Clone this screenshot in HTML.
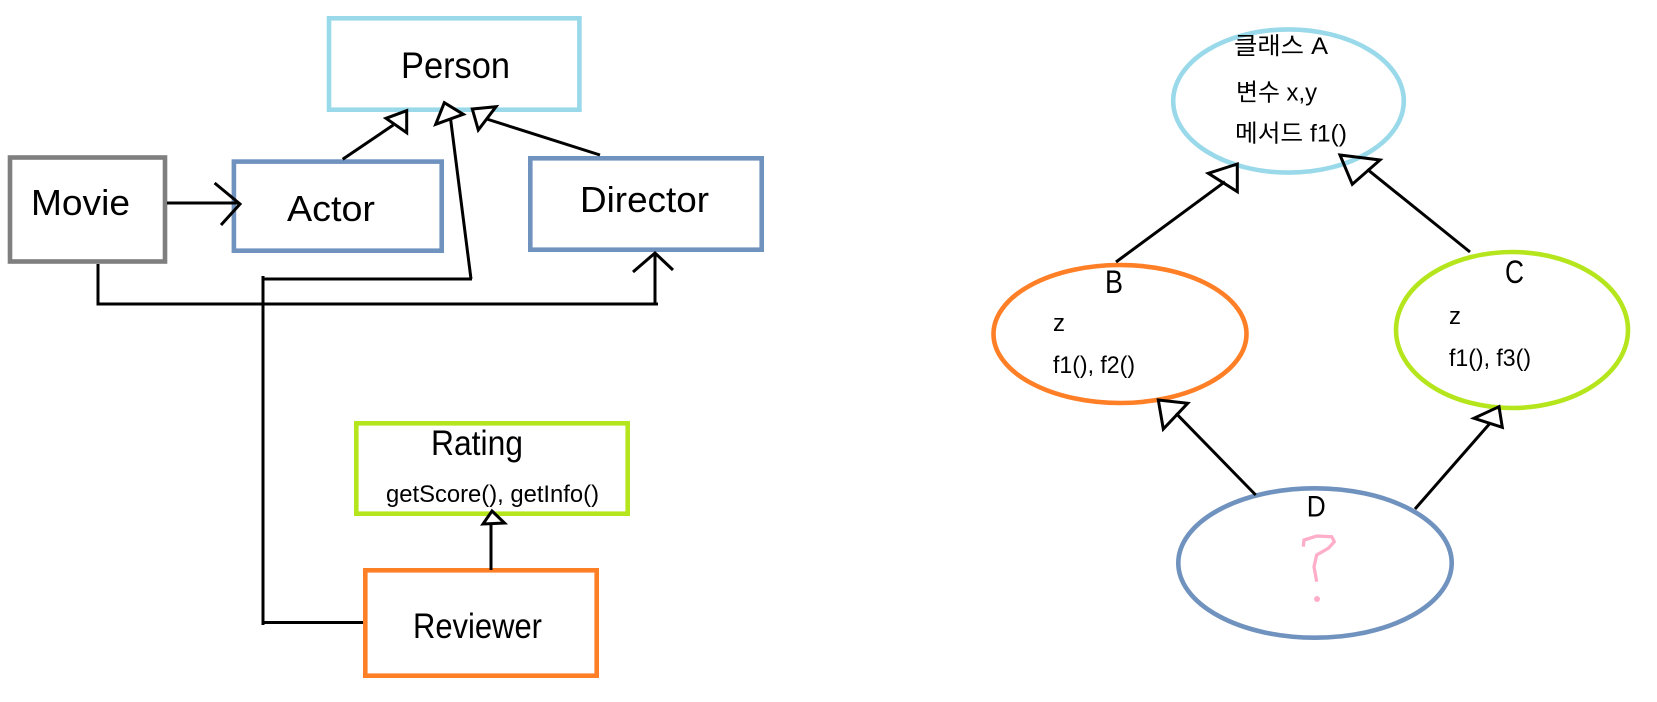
<!DOCTYPE html>
<html><head><meta charset="utf-8"><style>
html,body{margin:0;padding:0;background:#fff}
svg{display:block}
text{font-family:"Liberation Sans","Noto Sans CJK KR",sans-serif;fill:#000}
.l{stroke:#000;stroke-width:3;fill:none;stroke-linejoin:miter}
.t{stroke:#000;stroke-width:3;fill:#fff}
.n{stroke:#000;stroke-width:3;fill:none}
.b{fill:none;stroke-width:4.6}
</style></head><body>
<svg width="1657" height="702" viewBox="0 0 1657 702" xmlns="http://www.w3.org/2000/svg">
<rect width="1657" height="702" fill="#fff"/>
<rect class="b" x="329" y="18.300" width="250.400" height="91.400" stroke="#99d9ea"/>
<rect class="b" x="10" y="157.500" width="155" height="104" stroke="#7f7f7f"/>
<rect class="b" x="233.900" y="161.600" width="207.800" height="89.100" stroke="#7092be"/>
<rect class="b" x="530.300" y="158.300" width="231.400" height="91.400" stroke="#7092be"/>
<rect class="b" x="356.300" y="423.300" width="271.400" height="90.400" stroke="#b5e61d"/>
<rect class="b" x="365.300" y="570.300" width="231.400" height="105.400" stroke="#ff7f27"/>

<ellipse class="b" cx="1288.500" cy="101" rx="115.300" ry="71.600" stroke="#99d9ea"/>
<ellipse class="b" cx="1120" cy="334" rx="126.500" ry="69" stroke="#ff7f27"/>
<ellipse class="b" cx="1512" cy="330" rx="116" ry="78" stroke="#b5e61d"/>
<ellipse class="b" cx="1315" cy="563" rx="136.700" ry="74.700" stroke="#7092be"/>

<!-- left connectors -->
<path class="l" d="M342.700 159.300L393.300 125"/>
<path class="t" d="M406.700 110.700L386 118.300L406.700 132.700Z"/>
<path class="l" d="M263 276V625M263 279H472M471 279L450.700 120"/>
<path class="t" d="M444.300 102.700L463.300 114.300L435.700 124.300Z"/>
<path class="l" d="M600 155L486.700 119"/>
<path class="t" d="M472.300 109L496 106.700L478.300 130Z"/>
<path class="l" d="M167 203H238M214.600 183L240 204L221 225"/>
<path class="l" d="M98 264V304H658M655 304V253M633 272L655 253L673 270"/>
<path class="l" d="M491 570V524M263 622.500H363"/>
<path class="t" d="M492 511L504.500 523L483 524Z"/>

<!-- right connectors -->
<path class="l" d="M1116 262L1225 181.700"/>
<path class="n" d="M1237.300 164L1208.300 173.300L1237.300 191.700Z"/>
<path class="l" d="M1470 252L1367.300 169.300"/>
<path class="n" d="M1340 155L1380 160L1352.300 184.300Z"/>
<path class="l" d="M1255.700 495L1176 413.300"/>
<path class="n" d="M1158.300 400L1187.700 403.300L1163.300 429Z"/>
<path class="l" d="M1415 509L1490 423.300"/>
<path class="n" d="M1499 406.700L1474 418.300L1502.300 427.300Z"/>

<path d="M1303.300 546.700L1304 540L1316.700 536L1331.700 536.700L1334.300 541.700L1328.300 548.300L1316.700 555L1314 566.700L1316.700 581.700" fill="none" stroke="#ffaec9" stroke-width="3.300"/>
<circle cx="1317" cy="599" r="3" fill="#ffaec9"/>

<text x="401" y="78" font-size="37" textLength="109" lengthAdjust="spacingAndGlyphs">Person</text>
<text x="31" y="215" font-size="36" textLength="99" lengthAdjust="spacingAndGlyphs">Movie</text>
<text x="287" y="221" font-size="36" textLength="88" lengthAdjust="spacingAndGlyphs">Actor</text>
<text x="580" y="212" font-size="36" textLength="129" lengthAdjust="spacingAndGlyphs">Director</text>
<text x="431" y="455" font-size="35" textLength="92" lengthAdjust="spacingAndGlyphs">Rating</text>
<text x="386" y="502" font-size="24" textLength="213" lengthAdjust="spacingAndGlyphs">getScore(), getInfo()</text>
<text x="413" y="638" font-size="35" textLength="129" lengthAdjust="spacingAndGlyphs">Reviewer</text>

<text x="1234" y="54" font-size="24" textLength="94" lengthAdjust="spacingAndGlyphs">클래스 A</text>
<text x="1236" y="100.700" font-size="24" textLength="81" lengthAdjust="spacingAndGlyphs">변수 x,y</text>
<text x="1235" y="141.700" font-size="24" textLength="112" lengthAdjust="spacingAndGlyphs">메서드 f1()</text>
<text x="1110" y="293" font-size="32" textLength="18" lengthAdjust="spacingAndGlyphs" transform="translate(-5 0)">B</text>
<text x="1505" y="283" font-size="32" textLength="19" lengthAdjust="spacingAndGlyphs">C</text>
<text x="1053" y="331" font-size="24">z</text>
<text x="1449" y="324" font-size="24">z</text>
<text x="1053" y="373" font-size="24" textLength="82" lengthAdjust="spacingAndGlyphs">f1(), f2()</text>
<text x="1449" y="366" font-size="24" textLength="82" lengthAdjust="spacingAndGlyphs">f1(), f3()</text>
<text x="1306.700" y="516.700" font-size="30" textLength="19" lengthAdjust="spacingAndGlyphs">D</text>
</svg>
</body></html>
